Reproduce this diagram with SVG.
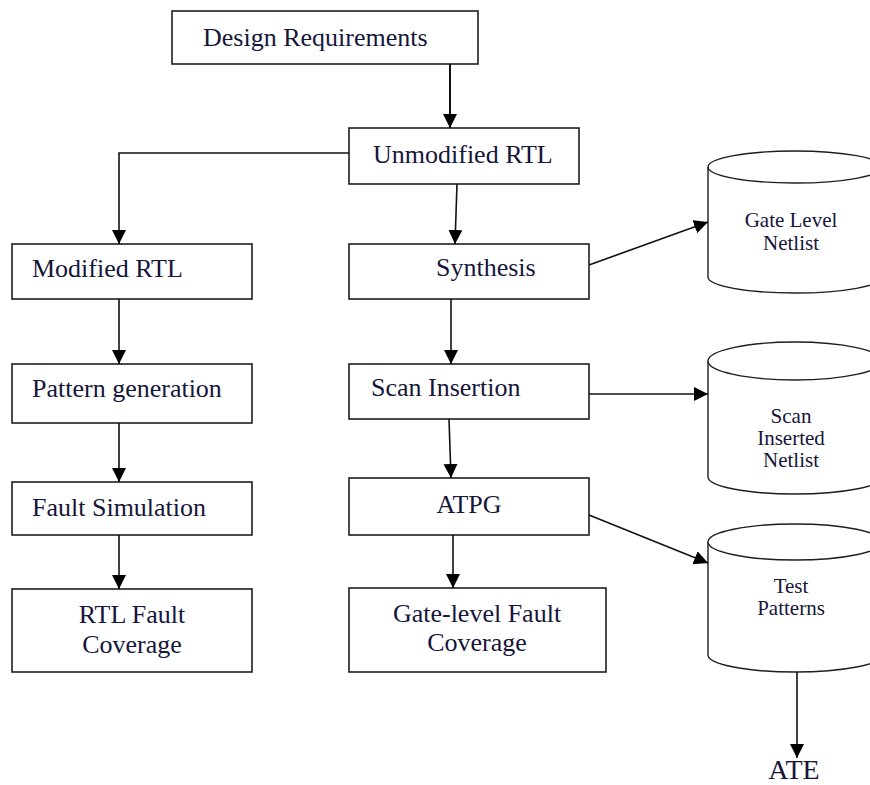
<svg xmlns="http://www.w3.org/2000/svg" width="870" height="785" viewBox="0 0 870 785">
  <defs>
    <marker id="arrow" markerUnits="userSpaceOnUse" markerWidth="15" markerHeight="15" refX="14" refY="7" orient="auto">
      <path d="M0,0 L14,7 L0,14 z" fill="#000"/>
    </marker>
    <style>
      .box { fill: #fff; stroke: #1e1e1e; stroke-width: 1.6; }
      .db { fill: #fff; stroke: #1e1e1e; stroke-width: 1.4; }
      .lbl { font-family: "Liberation Serif", "Times New Roman", serif; font-size: 26px; fill: #16163a; }
      .dbl { font-family: "Liberation Serif", "Times New Roman", serif; font-size: 21px; fill: #16163a; text-anchor: middle; }
      .mid { text-anchor: middle; }
      .wire { fill: none; stroke: #111; stroke-width: 1.6; }
    </style>
  </defs>
  <rect width="870" height="785" fill="#fff"/>

  <!-- process boxes -->
  <g id="design-requirements">
    <rect class="box" x="172" y="11" width="306" height="53"/>
    <text class="lbl" x="203" y="46">Design Requirements</text>
  </g>
  <g id="unmodified-rtl">
    <rect class="box" x="349" y="128" width="230" height="56"/>
    <text class="lbl" x="373" y="163">Unmodified RTL</text>
  </g>
  <g id="modified-rtl">
    <rect class="box" x="12" y="244" width="240" height="55"/>
    <text class="lbl" x="32" y="277">Modified RTL</text>
  </g>
  <g id="pattern-generation">
    <rect class="box" x="12" y="364" width="240" height="59"/>
    <text class="lbl" x="32" y="397">Pattern generation</text>
  </g>
  <g id="fault-simulation">
    <rect class="box" x="12" y="482" width="240" height="53"/>
    <text class="lbl" x="32" y="516">Fault Simulation</text>
  </g>
  <g id="rtl-fault-coverage">
    <rect class="box" x="12" y="589" width="240" height="83"/>
    <text class="lbl mid" x="132" y="623">RTL Fault</text>
    <text class="lbl mid" x="132" y="653">Coverage</text>
  </g>
  <g id="synthesis">
    <rect class="box" x="349" y="244" width="240" height="55"/>
    <text class="lbl" x="436" y="276">Synthesis</text>
  </g>
  <g id="scan-insertion">
    <rect class="box" x="349" y="364" width="240" height="55"/>
    <text class="lbl" x="371" y="396">Scan Insertion</text>
  </g>
  <g id="atpg">
    <rect class="box" x="349" y="478" width="240" height="57"/>
    <text class="lbl mid" x="469" y="513">ATPG</text>
  </g>
  <g id="gate-level-fault-coverage">
    <rect class="box" x="349" y="588" width="257" height="84"/>
    <text class="lbl mid" x="477" y="622">Gate-level Fault</text>
    <text class="lbl mid" x="477" y="651">Coverage</text>
  </g>

  <!-- data stores -->
  <g id="gate-level-netlist">
    <path class="db" d="M708,167 L708,277 A87,16 0 0 0 882,277 L882,167"/>
    <ellipse class="db" cx="795" cy="167" rx="87" ry="16"/>
    <text class="dbl" x="791" y="227">Gate Level</text>
    <text class="dbl" x="791" y="250">Netlist</text>
  </g>
  <g id="scan-inserted-netlist">
    <path class="db" d="M708,361 L708,477 A87,17 0 0 0 882,477 L882,361"/>
    <ellipse class="db" cx="795" cy="361" rx="87" ry="19"/>
    <text class="dbl" x="791" y="423">Scan</text>
    <text class="dbl" x="791" y="445">Inserted</text>
    <text class="dbl" x="791" y="467">Netlist</text>
  </g>
  <g id="test-patterns">
    <path class="db" d="M708,542 L708,655 A87,17 0 0 0 882,655 L882,542"/>
    <ellipse class="db" cx="795" cy="542" rx="87" ry="18"/>
    <text class="dbl" x="791" y="593">Test</text>
    <text class="dbl" x="791" y="615">Patterns</text>
  </g>
  <g id="ate">
    <text class="lbl mid" x="794" y="779" style="font-size:28px">ATE</text>
  </g>

  <!-- connectors -->
  <g id="connectors">
    <line class="wire" x1="450" y1="64" x2="450" y2="128" marker-end="url(#arrow)" style="stroke-width:2"/>
    <polyline class="wire" points="349,153 119,153 119,244" marker-end="url(#arrow)"/>
    <line class="wire" x1="457" y1="184" x2="455" y2="244" marker-end="url(#arrow)"/>
    <line class="wire" x1="119" y1="299" x2="119" y2="364" marker-end="url(#arrow)"/>
    <line class="wire" x1="119" y1="423" x2="119" y2="482" marker-end="url(#arrow)"/>
    <line class="wire" x1="119" y1="535" x2="119" y2="589" marker-end="url(#arrow)"/>
    <line class="wire" x1="451" y1="299" x2="451" y2="364" marker-end="url(#arrow)"/>
    <line class="wire" x1="449" y1="419" x2="451" y2="478" marker-end="url(#arrow)"/>
    <line class="wire" x1="453" y1="535" x2="453" y2="588" marker-end="url(#arrow)"/>
    <line class="wire" x1="589" y1="265" x2="708" y2="222" marker-end="url(#arrow)"/>
    <line class="wire" x1="589" y1="394" x2="708" y2="394" marker-end="url(#arrow)"/>
    <line class="wire" x1="589" y1="515" x2="708" y2="563" marker-end="url(#arrow)"/>
    <line class="wire" x1="797" y1="672" x2="797" y2="758" marker-end="url(#arrow)"/>
  </g>
</svg>
